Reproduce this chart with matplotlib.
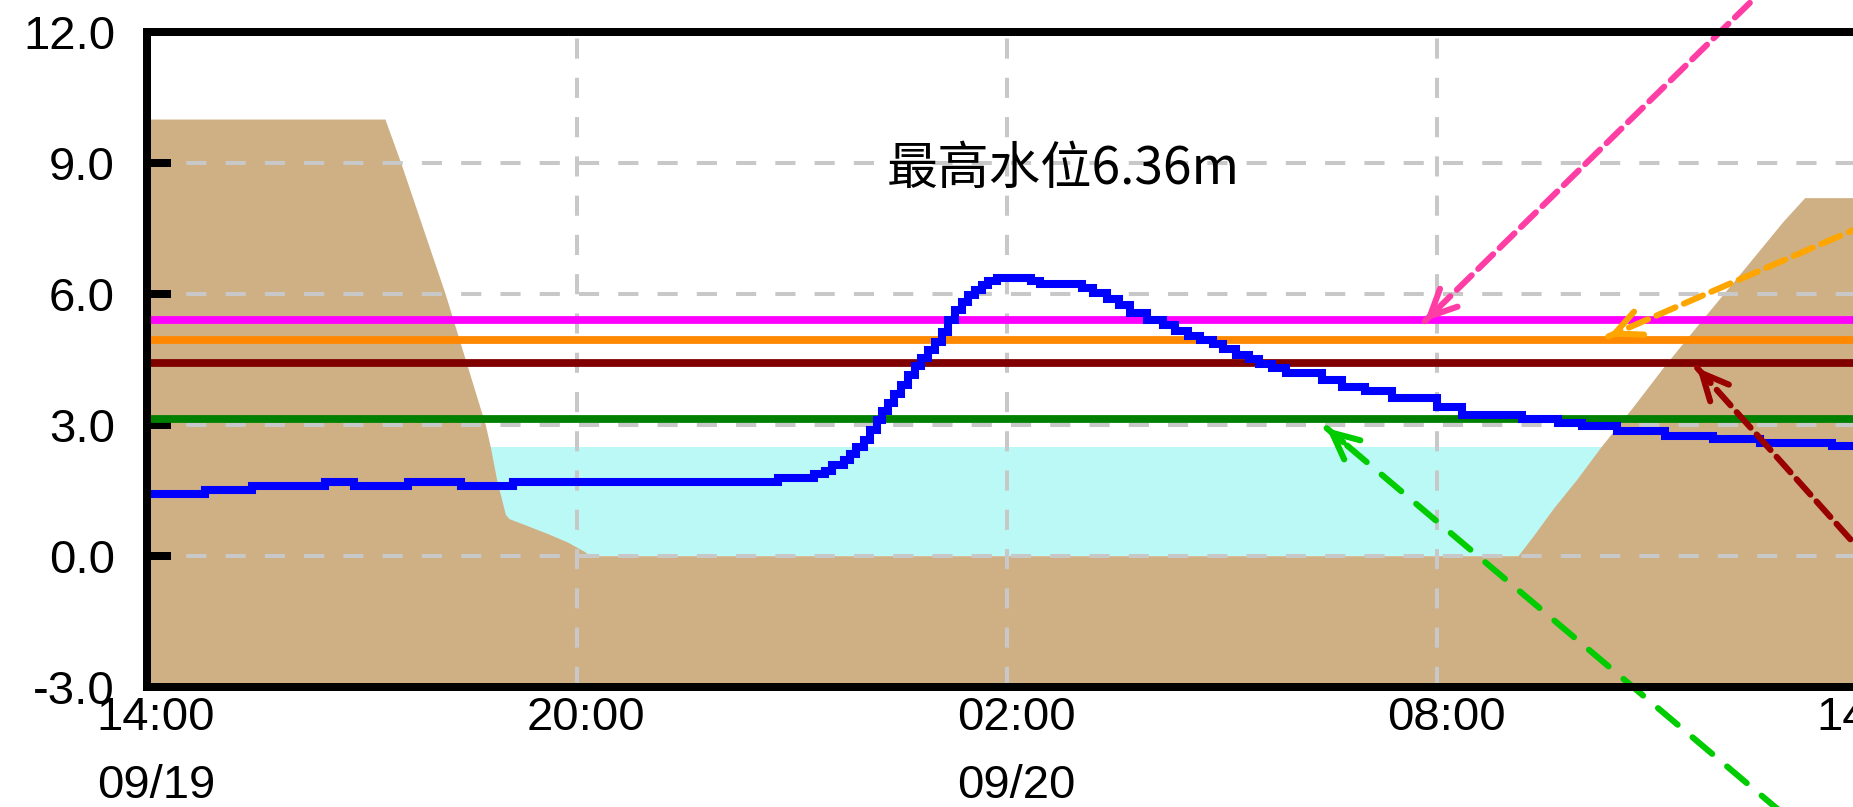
import matplotlib
matplotlib.use("Agg")
import matplotlib.pyplot as plt
from matplotlib.transforms import ScaledTranslation

# ---------------- data ----------------
x_ticks = [0, 6, 12, 18, 24]          # hours after 09/19 14:00
x_tick_labels = ["14:00\n09/19", "20:00", "02:00\n09/20", "08:00", "14:00"]
y_ticks = [-3.0, 0.0, 3.0, 6.0, 9.0, 12.0]
y_min, y_max = -3.0, 12.0

# water level (m) - observed stage, hours after 14:00
wl_hours = [0.00, 0.81, 1.47, 2.48, 2.89, 3.64, 4.38, 5.11, 8.81, 9.31,
            9.46, 9.56, 9.72, 9.81, 9.90, 10.00, 10.09, 10.18, 10.26, 10.34,
            10.43, 10.52, 10.62, 10.71, 10.80, 10.90, 10.99, 11.09, 11.18, 11.27,
            11.37, 11.46, 11.55, 11.65, 11.74, 11.86, 12.33, 12.46, 13.05, 13.20,
            13.40, 13.56, 13.72, 13.95, 14.18, 14.35, 14.52, 14.70, 14.87, 15.02,
            15.20, 15.37, 15.52, 15.70, 15.90, 16.40, 16.67, 17.00, 17.37, 18.00,
            18.35, 19.19, 19.69, 20.02, 20.51, 21.18, 21.85, 22.51, 23.51, 24.00]
wl_values = [1.42, 1.50, 1.60, 1.69, 1.60, 1.69, 1.60, 1.69, 1.77, 1.87,
             1.95, 2.08, 2.19, 2.33, 2.48, 2.65, 2.88, 3.11, 3.31, 3.49,
             3.70, 3.91, 4.14, 4.34, 4.52, 4.71, 4.90, 5.13, 5.40, 5.63,
             5.82, 5.97, 6.08, 6.20, 6.30, 6.36, 6.30, 6.22, 6.13, 6.02,
             5.89, 5.74, 5.55, 5.40, 5.28, 5.15, 5.02, 4.94, 4.84, 4.73,
             4.60, 4.50, 4.40, 4.29, 4.18, 4.02, 3.87, 3.78, 3.61, 3.41,
             3.23, 3.12, 3.04, 2.97, 2.85, 2.75, 2.67, 2.59, 2.51, 2.51]

# river cross-section (ground) profile
terrain_h = [0.00, 3.32, 3.54, 4.16, 4.72, 4.79, 4.88, 5.00, 5.05, 5.32,
             5.60, 5.87, 6.10, 6.18, 19.13, 19.34, 19.63, 19.95, 20.29, 20.73,
             21.15, 21.67, 22.30, 22.83, 23.13, 24.00]
terrain_v = [10.0, 10.0, 9.0, 6.0, 3.0, 2.5, 1.73, 0.95, 0.85, 0.68,
             0.50, 0.31, 0.10, 0.0, 0.0, 0.45, 1.10, 1.75, 2.5, 3.4,
             4.3, 5.35, 6.6, 7.66, 8.2, 8.2]
channel_top = 2.5

# warning levels
warn_levels = [5.40, 4.94, 4.41, 3.13]
warn_colors = ["#FF00FF", "#FF8800", "#800000", "#008000"]

# annotation arrows (labels lie outside the visible area)
arrow_tips = [(17.83, 5.37), (20.39, 5.02), (21.63, 4.30), (16.46, 2.92)]
arrow_tails = [(23.26, 14.10), (25.16, 8.42), (25.16, -2.18), (24.25, -7.88)]
arrow_colors = ["#FF3EA5", "#FFA500", "#990000", "#00CC00"]
arrow_dashes = [(0, (3.4, 1.5)), (0, (3.4, 1.5)), (0, (3.4, 1.5)), (0, (4.2, 3.2))]

# ---------------- figure ----------------
W, H = 1853, 807
fig = plt.figure(figsize=(W / 100, H / 100), dpi=100)
ax = fig.add_axes([147 / W, 120.3 / H, 1720 / W, 655 / H])
ax.set_xlim(0, 24)
ax.set_ylim(y_min, y_max)

ax.fill_between([0, 24], 0, channel_top, color="#BBF9F7", lw=0, zorder=0.8)
ax.fill_between(terrain_h, y_min, terrain_v, color="#CFB084", lw=0, zorder=0.9)

ax.set_axisbelow("line")
ax.grid(True, color="#C8C8C8", lw=2.9, linestyle=(0, (5, 4.75)))

for lv, c in zip(warn_levels, warn_colors):
    ax.axhline(lv, color=c, lw=5.6, zorder=3)

ax.plot(wl_hours, wl_values, drawstyle="steps-post", color="#0000FF",
        lw=5.8, zorder=4, solid_joinstyle="miter")

peak = max(wl_values)
ax.text(12.79, 8.85, f"最高水位{peak:.2f}m", fontsize=37,
        family=["Noto Sans CJK TC", "DejaVu Sans"], ha="center", va="center",
        color="black", zorder=5)

for tip, tail, c, ds in zip(arrow_tips, arrow_tails, arrow_colors, arrow_dashes):
    ax.annotate("", xy=tip, xytext=tail,
                arrowprops=dict(arrowstyle="-", color=c, lw=4.4, linestyle=ds,
                                shrinkA=0, shrinkB=0),
                annotation_clip=False, zorder=6)
    near = (tip[0] + (tail[0] - tip[0]) * 0.03, tip[1] + (tail[1] - tip[1]) * 0.03)
    ax.annotate("", xy=tip, xytext=near,
                arrowprops=dict(arrowstyle="->,head_length=1.9,head_width=0.9",
                                color=c, lw=4.4, shrinkA=0, shrinkB=0),
                annotation_clip=False, zorder=6)

for sp in ax.spines.values():
    sp.set_linewidth(5.76)
    sp.set_color("black")
    sp.set_capstyle("projecting")
    sp.set_zorder(7)

ax.set_yticks(y_ticks)
ax.set_yticklabels([f"{v:.1f}" for v in y_ticks])
ax.set_xticks(x_ticks)
ax.set_xticklabels(x_tick_labels)
ax.tick_params(axis="y", direction="in", length=17, width=5.76, pad=23,
               labelsize=34, colors="black")
ax.tick_params(axis="x", length=0, pad=7, labelsize=34)
for lab in ax.get_xticklabels():
    lab.set_family("Liberation Sans")
    lab.set_linespacing(1.68)
    lab.set_transform(lab.get_transform() + ScaledTranslation(0.09, 0, fig.dpi_scale_trans))
for lab in ax.get_yticklabels():
    lab.set_family("Liberation Sans")

fig.savefig("out.png", dpi=100)
